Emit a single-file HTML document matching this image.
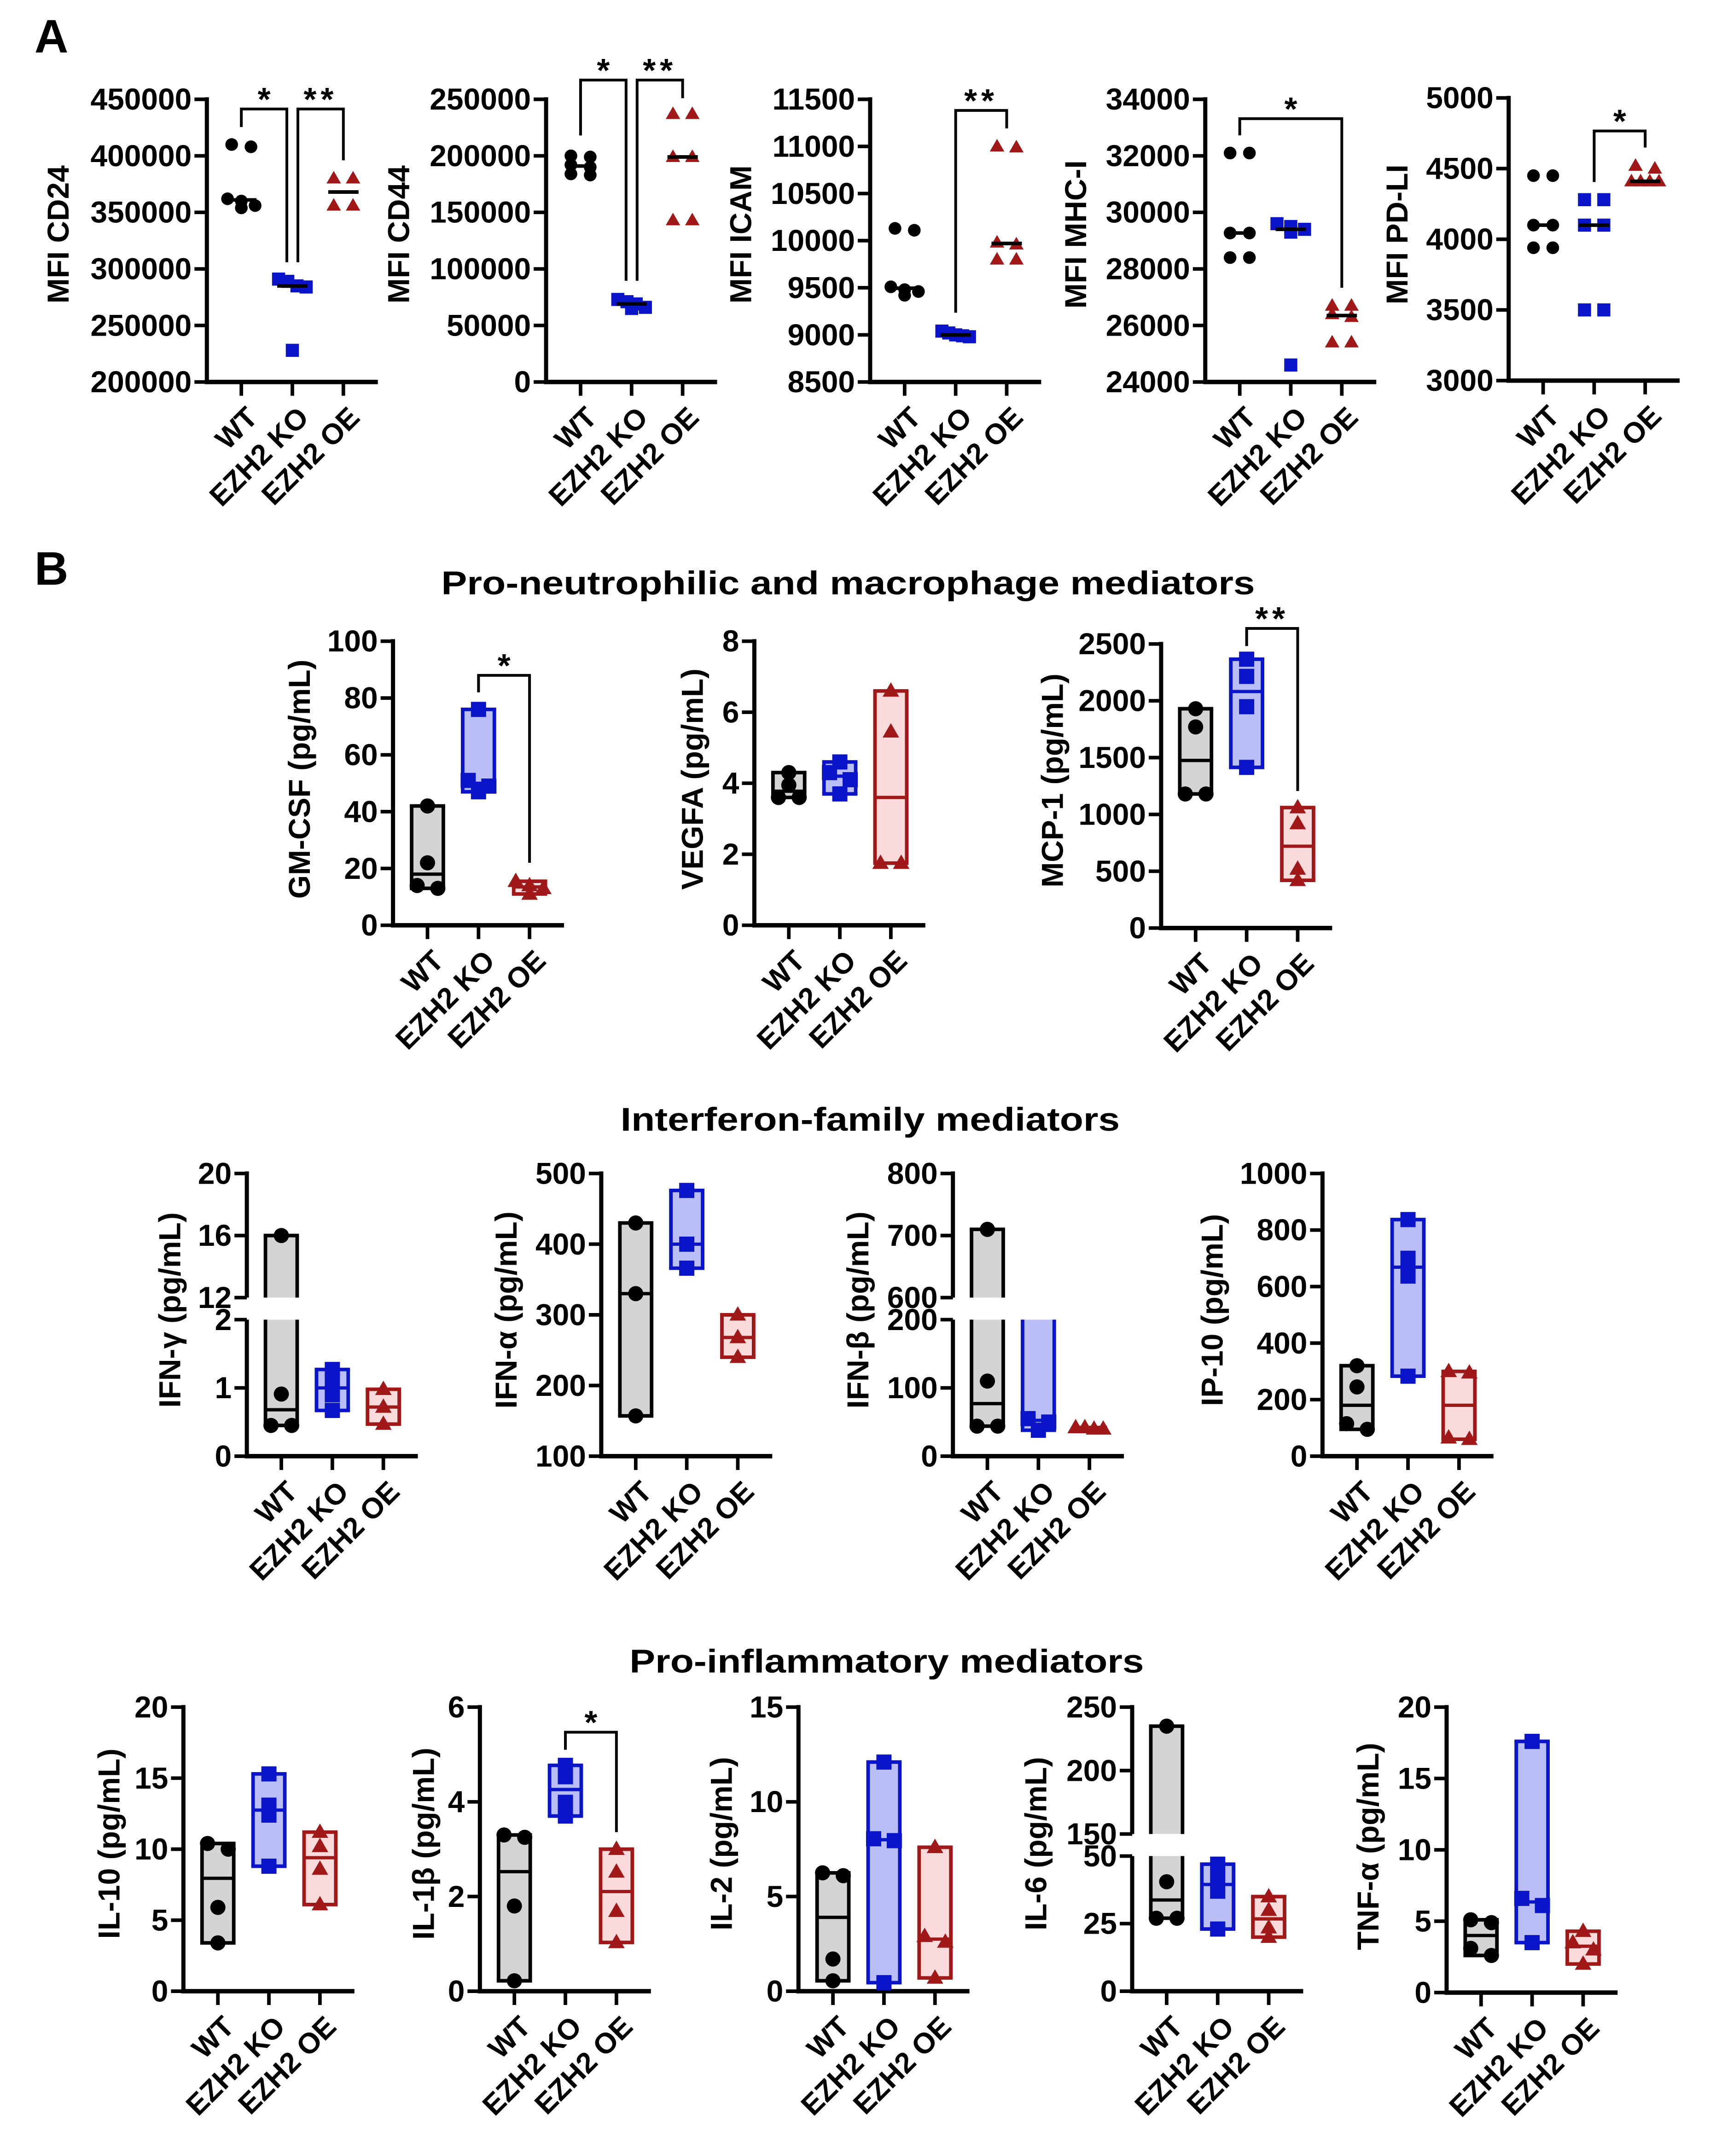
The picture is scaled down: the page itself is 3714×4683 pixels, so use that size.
<!DOCTYPE html>
<html><head><meta charset="utf-8"><title>EZH2 figure</title>
<style>
html,body{margin:0;padding:0;background:#fff;}
svg{display:block;font-family:"Liberation Sans",Arial,sans-serif;font-weight:bold;}
</style></head>
<body>
<svg id="fig" xmlns="http://www.w3.org/2000/svg" width="3714" height="4683" viewBox="0 0 1240 1563.5">
<rect x="0" y="0" width="1240" height="1563.5" fill="#fff"/>
<text x="25" y="38" font-size="34">A</text>
<text x="25" y="424" font-size="34">B</text>
<text x="615" y="431" font-size="24" text-anchor="middle" textLength="590" lengthAdjust="spacingAndGlyphs">Pro-neutrophilic and macrophage mediators</text>
<text x="631" y="820" font-size="24" text-anchor="middle" textLength="362" lengthAdjust="spacingAndGlyphs">Interferon-family mediators</text>
<text x="643" y="1213" font-size="24" text-anchor="middle" textLength="373" lengthAdjust="spacingAndGlyphs">Pro-inflammatory mediators</text>
</svg>
<script>
// ---------- categories ----------
const groupNames = ["WT", "EZH2 KO", "EZH2 OE"];
// ---------- panel A values ----------
const cd24WT = [410000, 408000, 362000, 360000, 356000, 354000];
const cd24KO = [291000, 289000, 285000, 284000, 228000];
const cd24OE = [380000, 380000, 356000, 356000];
const cd24Ticks = [200000, 250000, 300000, 350000, 400000, 450000];
const cd44WT = [200000, 199000, 192000, 190000, 184000, 183000];
const cd44KO = [73000, 71000, 69000, 66000, 65000];
const cd44OE = [237000, 237000, 199000, 199000, 143000, 143000];
const cd44Ticks = [0, 50000, 100000, 150000, 200000, 250000];
const icamWT = [10130, 10110, 9510, 9480, 9460, 9420];
const icamKO = [9040, 9020, 9000, 8990, 8980];
const icamOE = [11000, 10990, 9980, 9960, 9800, 9800];
const icamTicks = [8500, 9000, 9500, 10000, 10500, 11000, 11500];
const mhcWT = [32100, 32100, 29270, 29270, 28400, 28400];
const mhcKO = [29600, 29500, 29400, 29300, 24600];
const mhcOE = [26700, 26700, 26400, 26300, 25400, 25400];
const mhcTicks = [24000, 26000, 28000, 30000, 32000, 34000];
const pdl1WT = [4450, 4450, 4100, 4100, 3940, 3940];
const pdl1KO = [4280, 4280, 4100, 4100, 3500, 3500];
const pdl1OE = [4520, 4500, 4410, 4410, 4410, 4410];
const pdl1Ticks = [3000, 3500, 4000, 4500, 5000];
// ---------- panel B row 1 ----------
const gmcsfWT = [42, 22, 14, 13];
const gmcsfKO = [76, 51, 49, 47];
const gmcsfOE = [15.5, 14, 13, 11];
const gmcsfTicks = [0, 20, 40, 60, 80, 100];
const vegfaWT = [4.3, 3.95, 3.6, 3.6];
const vegfaKO = [4.6, 4.3, 4.1, 3.7];
const vegfaOE = [6.6, 5.45, 1.75, 1.75];
const vegfaTicks = [0, 2, 4, 6, 8];
const mcp1WT = [1930, 1770, 1180, 1180];
const mcp1KO = [2366, 2215, 1948, 1414];
const mcp1OE = [1060, 920, 520, 420];
const mcp1Ticks = [0, 500, 1000, 1500, 2000, 2500];
// ---------- panel B row 2 ----------
const ifngWT = [16, 0.91, 0.45, 0.45];
const ifngKO = [1.27, 1.1, 0.9, 0.67];
const ifngOE = [0.98, 0.72, 0.47];
const ifngTicks = [0, 1, 2, 12, 16, 20];
const ifnaWT = [430, 330, 157];
const ifnaKO = [476, 400, 366];
const ifnaOE = [300, 268, 240];
const ifnaTicks = [100, 200, 300, 400, 500];
const ifnbWT = [710, 110, 44, 44];
const ifnbKO = [400, 55, 50, 38];
const ifnbOE = [42, 42, 40, 40];
const ifnbTicks = [0, 100, 200, 600, 700, 800];
const ip10WT = [320, 245, 115, 95];
const ip10KO = [837, 700, 637, 283];
const ip10OE = [300, 295, 65, 60];
const ip10Ticks = [0, 200, 400, 600, 800, 1000];
// ---------- panel B row 3 ----------
const il10WT = [10.4, 10.0, 5.9, 3.4];
const il10KO = [15.3, 13.1, 12.4, 8.8];
const il10OE = [11.2, 10.2, 8.6, 6.1];
const il10Ticks = [0, 5, 10, 15, 20];
const il1bWT = [3.3, 3.25, 1.8, 0.22];
const il1bKO = [4.77, 4.53, 3.99, 3.7];
const il1bOE = [3.0, 2.52, 1.69, 1.03];
const il1bTicks = [0, 2, 4, 6];
const il2WT = [6.25, 6.1, 1.7, 0.55];
const il2KO = [12.1, 8.05, 7.95, 0.45];
const il2OE = [7.6, 2.9, 2.6, 0.7];
const il2Ticks = [0, 5, 10, 15];
const il6WT = [235, 40.5, 27, 27];
const il6KO = [47, 42, 37, 23];
const il6OE = [35, 30, 23.5, 20];
const il6Ticks = [0, 25, 50, 150, 200, 250];
const tnfWT = [5.1, 4.9, 3.1, 2.6];
const tnfKO = [17.6, 6.6, 6.1, 3.5];
const tnfOE = [4.3, 3.5, 3.0, 2.0];
const tnfTicks = [0, 5, 10, 15, 20];

// ---------- layout (not data) ----------
const A = {top: 72, bottom: 277};
const R1 = {top: 465, bottom: 671};
const R2 = {top: 851, bottom: 1056, lowTop: 957, upBottom: 941};
const R3 = {top: 1238, bottom: 1444, lowTop: 1346, upBottom: 1330};

const panels = [
  {id:'cd24', title:'MFI CD24', kind:'dot', ax:150, top:A.top, bottom:A.bottom, min:200000, max:450000, ticks:cd24Ticks, data:[cd24WT,cd24KO,cd24OE], tx:42, ty:170,
   brackets:[{i:0,j:1,top:441400,l1:425500,l2:305900,s:'*',dx1:0,dx2:-4},{i:1,j:2,top:441400,l1:305900,l2:396000,s:'**',dx1:4,dx2:0}]},
  {id:'cd44', title:'MFI CD44', kind:'dot', ax:396, top:A.top, bottom:A.bottom, min:0, max:250000, ticks:cd44Ticks, data:[cd44WT,cd44KO,cd44OE], tx:289, ty:170,
   brackets:[{i:0,j:1,top:267000,l1:218000,l2:89500,s:'*',dx1:0,dx2:-4},{i:1,j:2,top:267000,l1:89500,l2:251000,s:'**',dx1:4,dx2:0}]},
  {id:'icam', title:'MFI ICAM', kind:'dot', ax:631, top:A.top, bottom:A.bottom, min:8500, max:11500, ticks:icamTicks, data:[icamWT,icamKO,icamOE], tx:537, ty:170,
   brackets:[{i:1,j:2,top:11382,l1:9235,l2:11191,s:'**',dx1:0,dx2:0}]},
  {id:'mhc', title:'MFI MHC-I', kind:'dot', ax:874, top:A.top, bottom:A.bottom, min:24000, max:34000, ticks:mhcTicks, data:[mhcWT,mhcKO,mhcOE], tx:780, ty:170,
   brackets:[{i:0,j:2,top:33314,l1:32725,l2:27333,s:'*',dx1:0,dx2:0}]},
  {id:'pdl1', title:'MFI PD-LI', kind:'dot', ax:1094, top:A.top-1, bottom:A.bottom-1, min:3000, max:5000, ticks:pdl1Ticks, data:[pdl1WT,pdl1KO,pdl1OE], tx:1013, ty:170,
   brackets:[{i:1,j:2,top:4766,l1:4405,l2:4649,s:'*',dx1:0,dx2:0}]},

  {id:'gmcsf', title:'GM-CSF (pg/mL)', kind:'box', ax:285, top:R1.top, bottom:R1.bottom, min:0, max:100, ticks:gmcsfTicks, data:[gmcsfWT,gmcsfKO,gmcsfOE], tx:217, ty:565,
   brackets:[{i:1,j:2,top:88,l1:82,l2:22,s:'*',dx1:0,dx2:0}]},
  {id:'vegfa', title:'VEGFA (pg/mL)', kind:'box', ax:547, top:R1.top, bottom:R1.bottom, min:0, max:8, ticks:vegfaTicks, data:[vegfaWT,vegfaKO,vegfaOE], tx:502, ty:565, brackets:[]},
  {id:'mcp1', title:'MCP-1 (pg/mL)', kind:'box', ax:842, top:R1.top+2, bottom:R1.bottom+2, min:0, max:2500, ticks:mcp1Ticks, data:[mcp1WT,mcp1KO,mcp1OE], tx:763, ty:566,
   brackets:[{i:1,j:2,top:2637,l1:2482,l2:1206,s:'**',dx1:0,dx2:0}]},

  {id:'ifng', title:'IFN-\u03b3 (pg/mL)', kind:'box', ax:179, top:R2.top, bottom:R2.bottom, min:0, max:20, ticks:ifngTicks, data:[ifngWT,ifngKO,ifngOE], tx:123, ty:950, brackets:[],
   brk:{lowMax:2, upMin:12, lowTop:R2.lowTop, upBottom:R2.upBottom}},
  {id:'ifna', title:'IFN-\u03b1 (pg/mL)', kind:'box', ax:436, top:R2.top, bottom:R2.bottom, min:100, max:500, ticks:ifnaTicks, data:[ifnaWT,ifnaKO,ifnaOE], tx:367, ty:950, brackets:[]},
  {id:'ifnb', title:'IFN-\u03b2 (pg/mL)', kind:'box', ax:691, top:R2.top, bottom:R2.bottom, min:0, max:800, ticks:ifnbTicks, data:[ifnbWT,ifnbKO,ifnbOE], tx:622, ty:950, brackets:[],
   brk:{lowMax:200, upMin:600, lowTop:R2.lowTop, upBottom:R2.upBottom}},
  {id:'ip10', title:'IP-10 (pg/mL)', kind:'box', ax:959, top:R2.top, bottom:R2.bottom, min:0, max:1000, ticks:ip10Ticks, data:[ip10WT,ip10KO,ip10OE], tx:879, ty:950, brackets:[]},

  {id:'il10', title:'IL-10 (pg/mL)', kind:'box', ax:133, top:R3.top, bottom:R3.bottom, min:0, max:20, ticks:il10Ticks, data:[il10WT,il10KO,il10OE], tx:79, ty:1337, brackets:[]},
  {id:'il1b', title:'IL-1\u03b2 (pg/mL)', kind:'box', ax:348, top:R3.top, bottom:R3.bottom, min:0, max:6, ticks:il1bTicks, data:[il1bWT,il1bKO,il1bOE], tx:307, ty:1337,
   brackets:[{i:1,j:2,top:5.47,l1:5.1,l2:3.36,s:'*',dx1:0,dx2:0}]},
  {id:'il2', title:'IL-2 (pg/mL)', kind:'box', ax:579, top:R3.top, bottom:R3.bottom, min:0, max:15, ticks:il2Ticks, data:[il2WT,il2KO,il2OE], tx:523, ty:1337, brackets:[]},
  {id:'il6', title:'IL-6 (pg/mL)', kind:'box', ax:821, top:R3.top, bottom:R3.bottom, min:0, max:250, ticks:il6Ticks, data:[il6WT,il6KO,il6OE], tx:751, ty:1337, brackets:[],
   brk:{lowMax:50, upMin:150, lowTop:R3.lowTop, upBottom:R3.upBottom}},
  {id:'tnfa', title:'TNF-\u03b1 (pg/mL)', kind:'box', ax:1049, top:R3.top, bottom:R3.bottom+1, min:0, max:20, ticks:tnfTicks, data:[tnfWT,tnfKO,tnfOE], tx:992, ty:1339, brackets:[]}
];

const NS = 'http://www.w3.org/2000/svg';
const svg = document.getElementById('fig');
const STROKE = ['#000000', '#0a14c8', '#a01818'];
const FILL = ['#d4d4d4', '#babef6', '#fadada'];
const MARK = ['#000000', '#0a14c8', '#a01818'];
const CAT_OFF = [25, 62, 99];
const XLEN = 124;

function mk(tag, attrs, parent) {
  const e = document.createElementNS(NS, tag);
  for (const k in attrs) e.setAttribute(k, attrs[k]);
  parent.appendChild(e);
  return e;
}
function makeScale(p) {
  if (!p.brk) return v => p.bottom - (v - p.min) / (p.max - p.min) * (p.bottom - p.top);
  const b = p.brk;
  return v => {
    if (v <= b.lowMax) return p.bottom - (v - p.min) / (b.lowMax - p.min) * (p.bottom - b.lowTop);
    if (v >= b.upMin) return b.upBottom - (v - b.upMin) / (p.max - b.upMin) * (b.upBottom - p.top);
    return NaN;
  };
}
function median(a) {
  const s = a.slice().sort((x, y) => x - y), n = s.length;
  return n % 2 ? s[(n - 1) / 2] : (s[n / 2 - 1] + s[n / 2]) / 2;
}
function marker(g, gi, x, y, big) {
  let m;
  if (gi === 0) {
    m = mk('circle', {cx: x, cy: y, r: big ? 5.5 : 4.6, fill: MARK[0]}, g);
  } else if (gi === 1) {
    const s = big ? 11 : 9.5;
    m = mk('rect', {x: x - s / 2, y: y - s / 2, width: s, height: s, fill: MARK[1]}, g);
  } else {
    const s = big ? 12 : 10.5, h = s * 0.87;
    m = mk('polygon', {points: `${x},${y - h * 0.6} ${x - s / 2},${y + h * 0.4} ${x + s / 2},${y + h * 0.4}`, fill: MARK[2]}, g);
  }
  return m;
}
function offsets(ys, spacing) {
  const idx = ys.map((y, i) => i).filter(i => !isNaN(ys[i])).sort((a, b) => ys[a] - ys[b]);
  const off = ys.map(() => 0);
  let c = [];
  const flush = () => {
    const n = c.length;
    if (n > 1) {
      const sp = n === 2 ? spacing : Math.min(spacing, 20 / (n - 1));
      c.forEach((i, k) => off[i] = (k - (n - 1) / 2) * sp);
    }
    c = [];
  };
  idx.forEach(i => {
    if (c.length && Math.abs(ys[i] - ys[c[0]]) > 6) flush();
    c.push(i);
  });
  flush();
  return off;
}

panels.forEach(p => {
  const g = mk('g', {}, svg);
  
  
  const y = makeScale(p);
  const cx = CAT_OFF.map(o => p.ax + o);
  const big = p.kind === 'box';

  const axG = mk('g', {stroke: '#000', 'stroke-width': 3, fill: 'none'}, g);
  
  
  if (p.brk) {
    mk('line', {x1: p.ax, y1: p.bottom + 1.5, x2: p.ax, y2: p.brk.lowTop}, axG);
    mk('line', {x1: p.ax, y1: p.brk.upBottom, x2: p.ax, y2: p.top - 1.5}, axG);
  } else {
    mk('line', {x1: p.ax, y1: p.bottom + 1.5, x2: p.ax, y2: p.top - 1.5}, axG);
  }
  p.ticks.forEach(t => {
    const ty = y(t);
    mk('line', {x1: p.ax - 9, y1: ty, x2: p.ax, y2: ty, 'stroke-width': 2.6}, axG);
    const lab = mk('text', {x: p.ax - 11, y: ty + 7.5, 'font-size': 22, 'text-anchor': 'end', fill: '#000', stroke: 'none'}, g);
    
    
    lab.textContent = String(t);
  });
  const xa = mk('line', {x1: p.ax - 1.5, y1: p.bottom, x2: p.ax + XLEN, y2: p.bottom, stroke: '#000', 'stroke-width': 3.2}, g);
  
  
  groupNames.forEach((nm, i) => {
    mk('line', {x1: cx[i], y1: p.bottom, x2: cx[i], y2: p.bottom + 10, stroke: '#000', 'stroke-width': 2.6}, g);
    const ax = cx[i] + 13, ay = p.bottom + 27;
    const t = mk('text', {x: ax, y: ay, 'font-size': 21, 'text-anchor': 'end', transform: `rotate(-45 ${ax} ${ay})`}, g);
    
    
    t.textContent = nm;
  });
  const tt = mk('text', {x: p.tx, y: p.ty, 'font-size': 22, 'text-anchor': 'middle', 'dominant-baseline': 'central', transform: `rotate(-90 ${p.tx} ${p.ty})`}, g);
  
  
  tt.textContent = p.title;

  p.data.forEach((vals, gi) => {
    const sg = mk('g', {}, g);
    
    
    const x = cx[gi];
    const med = median(vals);
    if (p.kind === 'box') {
      const lo = Math.min(...vals), hi = Math.max(...vals);
      const hw = 11.5;
      let segs = [];
      if (!p.brk) segs = [[y(hi), y(lo), false, false]];
      else {
        const b = p.brk;
        if (lo <= b.lowMax) segs.push([hi <= b.lowMax ? y(hi) : b.lowTop, y(lo), hi > b.lowMax, false]);
        if (hi >= b.upMin) segs.push([y(hi), lo >= b.upMin ? y(lo) : b.upBottom, false, lo < b.upMin]);
      }
      segs.forEach(s => {
        const r = mk('rect', {x: x - hw, y: s[0], width: hw * 2, height: s[1] - s[0], fill: FILL[gi]}, sg);
        
        
        const st = {stroke: STROKE[gi], 'stroke-width': 2.6};
        mk('line', Object.assign({x1: x - hw, y1: s[0], x2: x - hw, y2: s[1]}, st), sg);
        mk('line', Object.assign({x1: x + hw, y1: s[0], x2: x + hw, y2: s[1]}, st), sg);
        if (!s[2]) mk('line', Object.assign({x1: x - hw - 1.3, y1: s[0], x2: x + hw + 1.3, y2: s[0]}, st), sg);
        if (!s[3]) mk('line', Object.assign({x1: x - hw - 1.3, y1: s[1], x2: x + hw + 1.3, y2: s[1]}, st), sg);
      });
      const my = y(med);
      if (!isNaN(my)) {
        const ml = mk('line', {x1: x - hw, y1: my, x2: x + hw, y2: my, stroke: STROKE[gi], 'stroke-width': 2.4}, sg);
        
        
      }
    }
    const ys = vals.map(v => y(v));
    const off = offsets(ys, big ? 15 : 14);
    ys.forEach((py, k) => {
      if (isNaN(py)) return;
      const m = marker(sg, gi, x + off[k], py, big);
      
      
    });
    if (p.kind === 'dot') {
      const my = y(med);
      const ml = mk('line', {x1: x - 11, y1: my, x2: x + 11, y2: my, stroke: '#000', 'stroke-width': 2.6}, sg);
      
      
    }
  });

  p.brackets.forEach(b => {
    const bg = mk('g', {}, g);
    
    
    const x1 = cx[b.i] + b.dx1, x2 = cx[b.j] + b.dx2;
    const yt = y(b.top);
    mk('path', {d: `M${x1},${y(b.l1)} V${yt} H${x2} V${y(b.l2)}`, fill: 'none', stroke: '#000', 'stroke-width': 2}, bg);
    const s = mk('text', {x: (x1 + x2) / 2, y: yt + 1, 'font-size': 24, 'text-anchor': 'middle', 'letter-spacing': b.s.length > 1 ? 3 : 0}, bg);
    s.textContent = b.s;
  });
});
</script>
</body></html>
